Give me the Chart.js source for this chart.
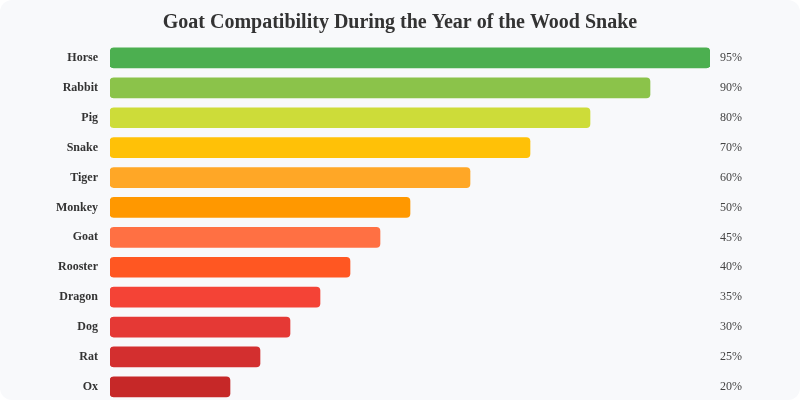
<!DOCTYPE html>
<html>
<head>
<meta charset="utf-8">
<script src="https://cdn.jsdelivr.net/npm/chart.js@4"></script>
<style>
  html, body { margin: 0; padding: 0; background: #ffffff; }
  .card { width: 800px; height: 400px; background: #f8f9fb; border-radius: 12px; overflow: hidden; position: relative; }
  canvas { display: block; }
</style>
</head>
<body>
<div class="card">
  <canvas id="compatChart" width="800" height="421"></canvas>
</div>
<script>
var signs = ["Horse", "Rabbit", "Pig", "Snake", "Tiger", "Monkey", "Goat", "Rooster", "Dragon", "Dog", "Rat", "Ox"];
var barValues = [100, 90, 80, 70, 60, 50, 45, 40, 35, 30, 25, 20];
var pctLabels = ["95%", "90%", "80%", "70%", "60%", "50%", "45%", "40%", "35%", "30%", "25%", "20%"];
var barColors = ["#4caf50", "#8bc34a", "#cddc39", "#ffc107", "#ffa726", "#ff9800",
                 "#ff7043", "#ff5722", "#f44336", "#e53935", "#d32f2f", "#c62828"];

var serif = "'Liberation Serif', 'Times New Roman', serif";

var ctx = document.getElementById('compatChart').getContext('2d');
new Chart(ctx, {
    type: 'bar',
    data: {
        labels: signs,
        datasets: [{
            data: barValues,
            backgroundColor: barColors,
            borderRadius: 4,
            borderSkipped: false,
            barThickness: 20
        }]
    },
    options: {
        indexAxis: 'y',
        responsive: false,
        animation: false,
        layout: { padding: { top: 11, left: 0, right: 0, bottom: 0 } },
        plugins: {
            legend: { display: false },
            tooltip: { enabled: false },
            title: {
                display: true,
                text: "Goat Compatibility During the Year of the Wood Snake",
                color: "#333333",
                font: { family: serif, size: 20, weight: 'bold' },
                padding: { top: 0, bottom: 8 }
            }
        },
        scales: {
            x: { display: false, min: 0, max: 100 },
            y: {
                position: 'left',
                grid: { display: false, drawTicks: false },
                border: { display: false },
                ticks: { color: "#333333", padding: 12, font: { family: serif, size: 12, weight: 'bold' } },
                afterFit: function(scale) { scale.width = 110; }
            },
            y2: {
                type: 'category',
                position: 'right',
                labels: pctLabels,
                offset: true,
                grid: { display: false, drawTicks: false },
                border: { display: false },
                ticks: { color: "#444444", padding: 10, font: { family: serif, size: 12 } },
                afterFit: function(scale) { scale.width = 90; }
            }
        }
    }
});
</script>
</body>
</html>
